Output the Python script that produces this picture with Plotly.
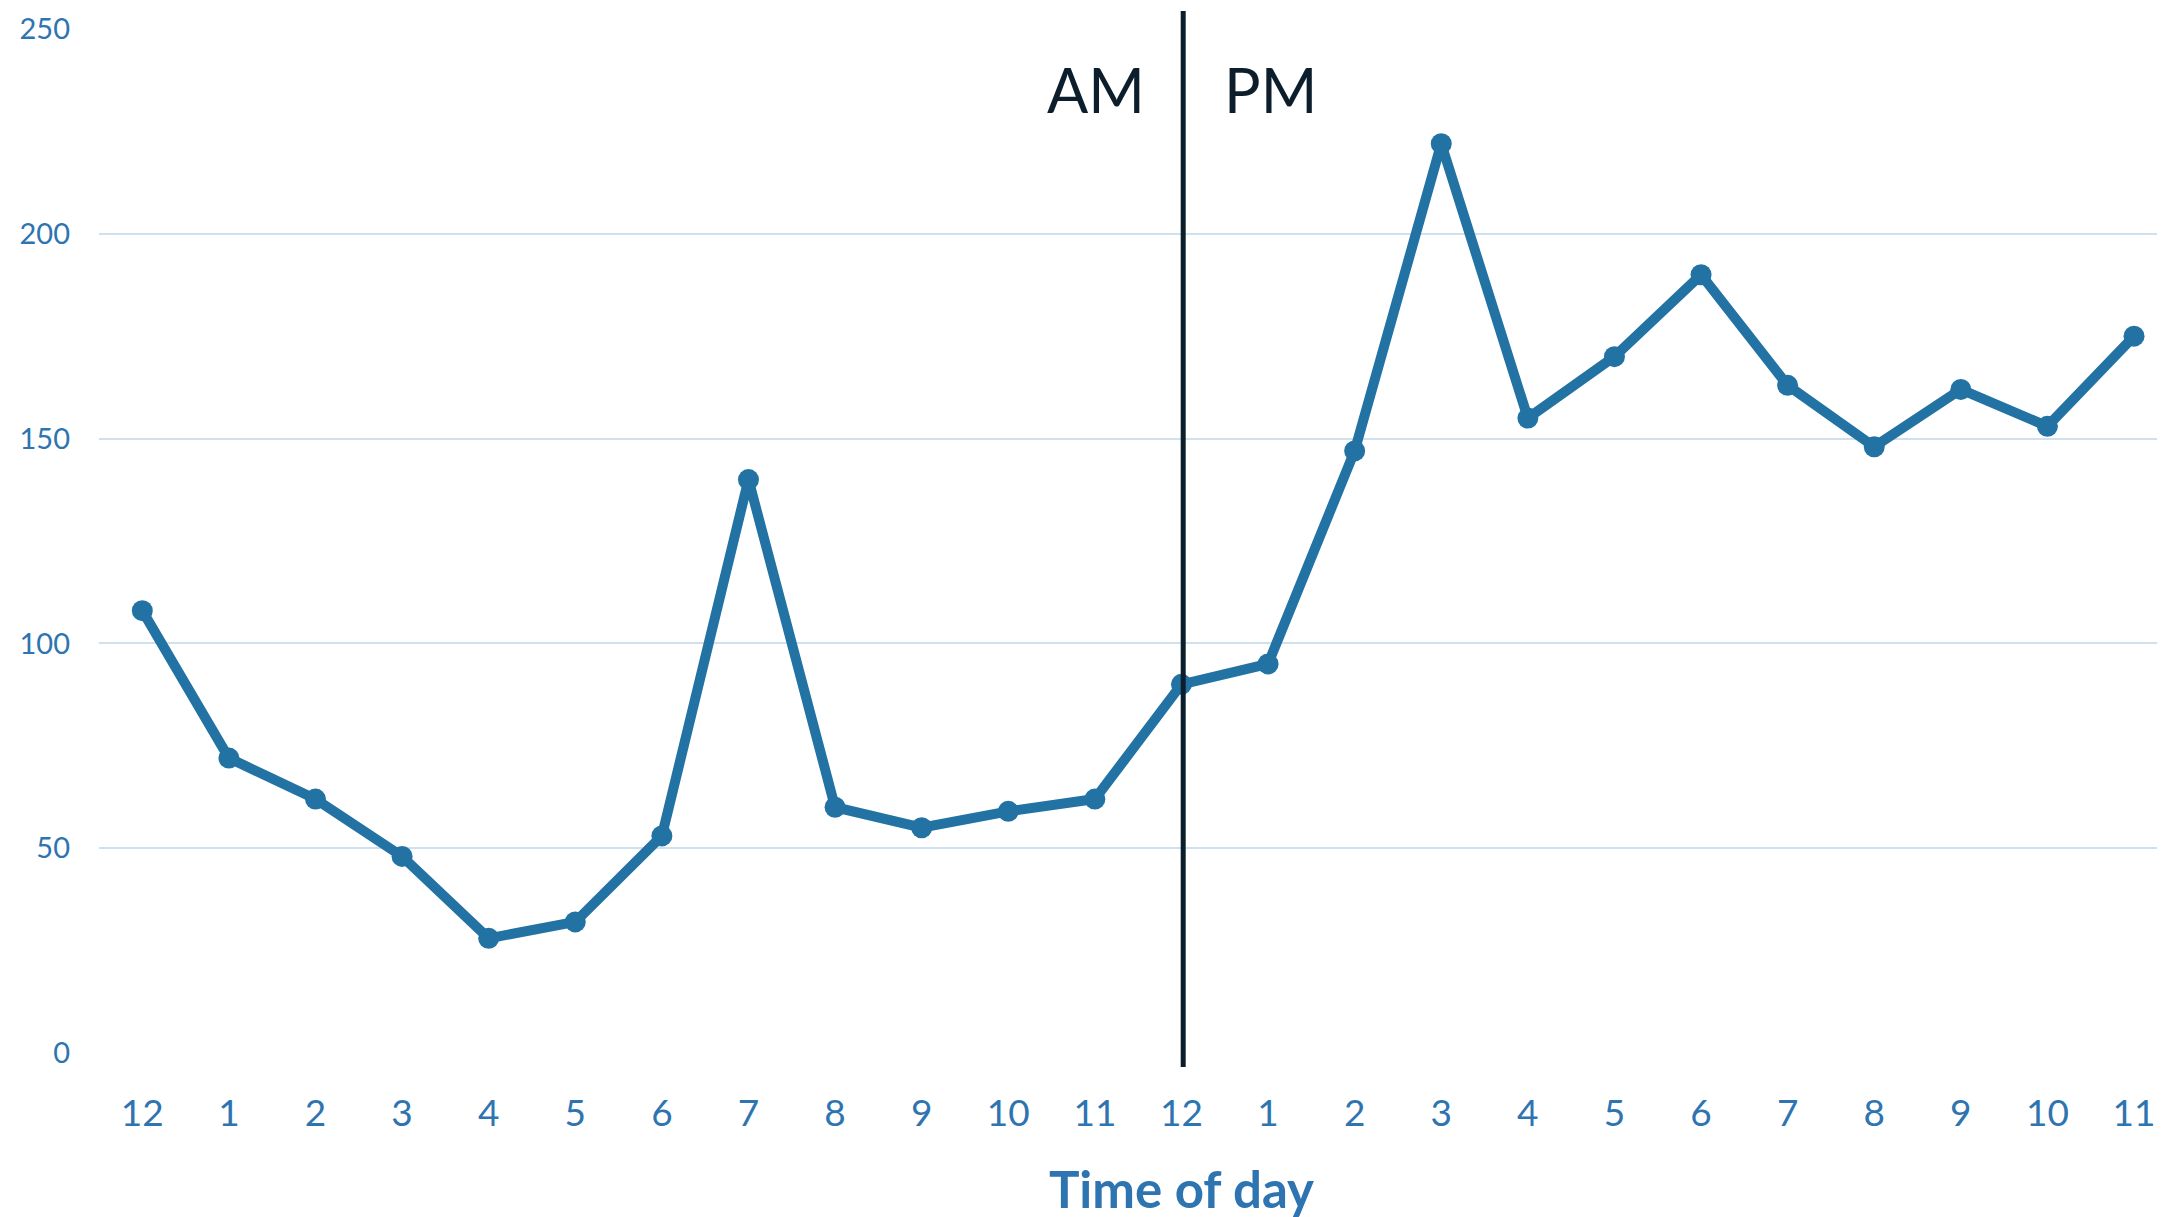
import plotly.graph_objects as go

hours = ["12", "1", "2", "3", "4", "5", "6", "7", "8", "9", "10", "11",
         "12", "1", "2", "3", "4", "5", "6", "7", "8", "9", "10", "11"]
values = [108, 72, 62, 48, 28, 32, 53, 140, 60, 55, 59, 62,
          90, 95, 147, 222, 155, 170, 190, 163, 148, 162, 153, 175]
y_ticks = [0, 50, 100, 150, 200, 250]
positions = list(range(len(hours)))
divider_at = 12

blue = "#2272a4"
label_blue = "#2e74b0"
dark = "#0c1e2c"
font = "Lato"

fig = go.Figure()
fig.add_trace(go.Scatter(
    x=positions, y=values, mode="lines+markers",
    line=dict(color=blue, width=10),
    marker=dict(color=blue, size=21),
    showlegend=False, cliponaxis=False,
))

fig.add_shape(type="line", xref="x", yref="paper", x0=divider_at + 0.02, x1=divider_at + 0.02,
              y0=-0.0137, y1=1.0176, line=dict(color=dark, width=5))

fig.add_annotation(x=divider_at, xref="x", xshift=-85, y=1.0, yref="paper", yshift=-60,
                   text="AM", showarrow=False, xanchor="center", yanchor="middle",
                   font=dict(family=font, size=61, color=dark))
fig.add_annotation(x=divider_at, xref="x", xshift=89, y=1.0, yref="paper", yshift=-60,
                   text="PM", showarrow=False, xanchor="center", yanchor="middle",
                   font=dict(family=font, size=61, color=dark))
fig.add_annotation(x=divider_at, xref="x", y=0, yref="paper", yshift=-135,
                   text="<b>Time of day</b>", showarrow=False, xanchor="center", yanchor="middle",
                   font=dict(family=font, size=51, color=label_blue))

fig.update_layout(
    width=2165, height=1217,
    margin=dict(l=91, r=0, t=21, b=172),
    paper_bgcolor="white", plot_bgcolor="white",
    font=dict(family=font, color=label_blue),
    xaxis=dict(range=[-0.5, 23.45], tickvals=positions, ticktext=hours,
               showgrid=False, zeroline=False, showline=False,
               tickfont=dict(family=font, size=37, color=label_blue),
               ticks="", ticklabelstandoff=35),
    yaxis=dict(range=[0, 250], tickvals=y_ticks,
               showgrid=True, gridcolor="#cfe0ef", gridwidth=2,
               zeroline=False, showline=False,
               tickfont=dict(family=font, size=29, color=label_blue),
               ticks="", ticklabelstandoff=28),
)

fig.write_html("out.html")
